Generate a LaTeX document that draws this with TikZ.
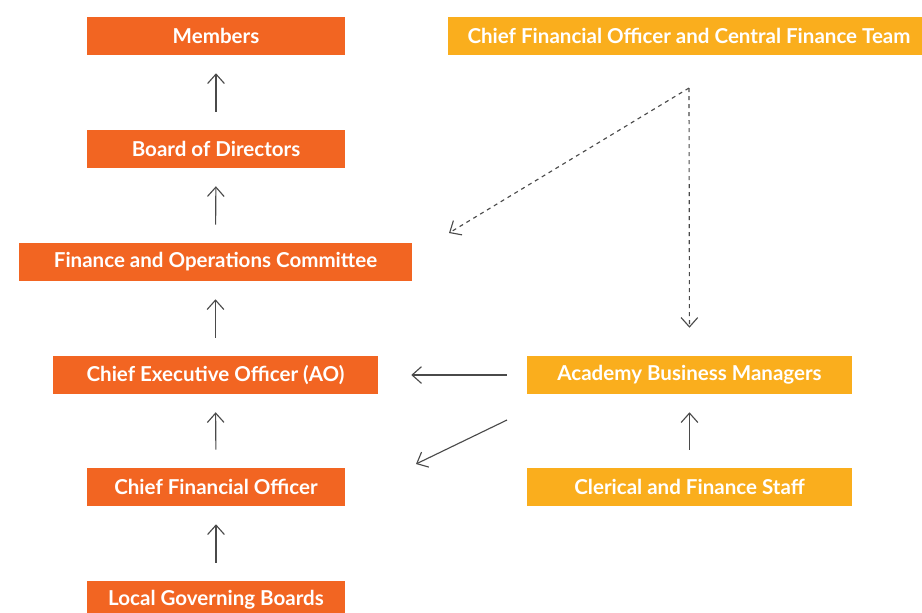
\documentclass[tikz,border=0pt]{standalone}
\usepackage{fontspec}
\setmainfont{Lato}
\usetikzlibrary{arrows.meta}

\definecolor{govorange}{HTML}{F26522}
\definecolor{finyellow}{HTML}{FAAE1D}
\definecolor{linkgrey}{HTML}{4A4A4A}

\begin{document}
\begin{tikzpicture}[x=0.75pt,y=-0.75pt]

        \useasboundingbox (0,0) rectangle (922,612);

        \begin{scope}[every node/.style={text=white,inner sep=0pt,minimum height=28.5pt,
            font=\bfseries\fontsize{15.4}{18}\selectfont}]
          \node[fill=govorange,minimum width=193.5pt]  (mem) at (216,36)    {Members};
          \node[fill=govorange,minimum width=193.5pt]  (bod) at (216,149)   {Board of Directors};
          \node[fill=govorange,minimum width=294.75pt] (fin) at (215.5,262) {Finance and Operations Committee};
          \node[fill=govorange,minimum width=243.75pt] (ceo) at (215.5,375) {Chief Executive Officer (AO)};
          \node[fill=govorange,minimum width=193.5pt]  (cfo) at (216,487)   {Chief Financial Officer};
          \node[fill=govorange,minimum width=193.5pt]  (lgb) at (216,600)   {Local Governing Boards};
          \node[fill=finyellow,minimum width=361.5pt]  (cft) at (689,36)    {Chief Financial Officer and Central Finance Team};
          \node[fill=finyellow,minimum width=243.75pt] (abm) at (689.5,375) {Academy Business Managers};
          \node[fill=finyellow,minimum width=243.75pt] (cls) at (689.5,487) {Clerical and Finance Staff};
        \end{scope}

        \coordinate (fork)  at (689,88);
        \coordinate (finin) at (449,233);
        \coordinate (abmout) at (507,420);
        \coordinate (cfoin) at (416,464);

        \begin{scope}[every edge/.style={draw,linkgrey,line width=0.85pt,
            -{Straight Barb[length=7pt,width=12.5pt]}}]
          \path (bod.north) edge[shorten <=13.5pt,shorten >=13.5pt] (mem.south);
          \path (fin.north) edge[shorten <=13.5pt,shorten >=13.5pt] (bod.south);
          \path (ceo.north) edge[shorten <=13.5pt,shorten >=13.5pt] (fin.south);
          \path (cfo.north) edge[shorten <=13.5pt,shorten >=13.5pt] (ceo.south);
          \path (lgb.north) edge[shorten <=13.5pt,shorten >=13.5pt] (cfo.south);
          \path (cls.north) edge[shorten <=13.5pt,shorten >=13.5pt] (abm.south);
          \path (abm.west)  edge[shorten <=15pt,shorten >=24.75pt] (ceo.east);
          \path (abmout)    edge (cfoin);
          \path (fork) edge[dash pattern=on 3pt off 3pt,shorten >=21pt] (abm.north);
          \path (fork) edge[dash pattern=on 3pt off 3pt] (finin);
        \end{scope}

\end{tikzpicture}
\end{document}
